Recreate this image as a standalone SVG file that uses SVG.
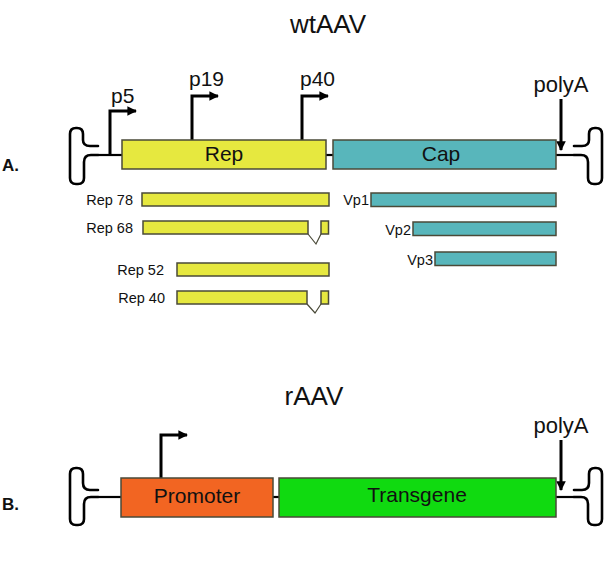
<svg xmlns="http://www.w3.org/2000/svg" width="609" height="568" viewBox="0 0 609 568">
<style>
text{font-family:"Liberation Sans",Arial,sans-serif;fill:#111}
.title{font-size:26px;text-anchor:middle}
.box{stroke:#4a4a38;stroke-width:1.5}
.rep{fill:#e6e83f}
.cap{fill:#58b6bb}
.lbl{font-size:21px;text-anchor:middle}
.plbl{font-size:21px}
.sm{font-size:14.5px;text-anchor:end}
.sec{font-size:17px;font-weight:bold}
.itr{fill:none;stroke:#000;stroke-width:2.6;stroke-linejoin:round;stroke-linecap:round}
.ln{fill:none;stroke:#000;stroke-width:2.2}
.pr{fill:none;stroke:#000;stroke-width:3;marker-end:url(#ah)}
.splice{fill:none;stroke:#4a4a38;stroke-width:1.2}
</style>
<defs>
<marker id="ah" viewBox="0 0 10 10" refX="9" refY="5" markerWidth="3.2" markerHeight="3.2" orient="auto" markerUnits="strokeWidth">
<path d="M0,0 L10,5 L0,10 z" fill="#000"/>
</marker>
<path id="itrTop" d="M 98,155 L 91,155 Q 84,155 84,162 L 84,178 Q 84,184 78,184 L 76,184 Q 70,184 70,178 L 70,134 Q 70,128 76,128 L 77,128 Q 83,128 83,134 L 83,140 Q 83,146 90,146 L 98,146"/>
<path id="itrBot" d="M 98,497 L 91,497 Q 84,497 84,504 L 84,519 Q 84,525 78,525 L 76,525 Q 70,525 70,519 L 70,474 Q 70,468 76,468 L 77,468 Q 83,468 83,474 L 83,483 Q 83,490 90,490 L 98,490"/>
</defs>
<rect width="609" height="568" fill="#fff"/>

<text class="title" x="328" y="33">wtAAV</text>
<text class="title" x="314" y="405">rAAV</text>
<text class="sec" x="2" y="171">A.</text>
<text class="sec" x="2" y="510">B.</text>

<g id="connectors">
<line class="ln" x1="98" y1="155" x2="122" y2="155"/>
<line class="ln" x1="326" y1="155" x2="333" y2="155"/>
<line class="ln" x1="556" y1="155" x2="574" y2="155"/>
<line class="ln" x1="98" y1="497" x2="121" y2="497"/>
<line class="ln" x1="273" y1="497" x2="279" y2="497"/>
<line class="ln" x1="556" y1="497" x2="574" y2="497"/>
<path class="pr" d="M110,155 V111 H136"/>
<path class="pr" d="M192,140 V96 H218"/>
<path class="pr" d="M302,140 V96 H328"/>
<path class="pr" d="M561,99 V150"/>
<path class="pr" d="M161,478 V435 H187"/>
<path class="pr" d="M561,440 V490"/>
</g>

<g id="itr-left-a"><use href="#itrTop" class="itr"/></g>
<g id="itr-right-a"><use href="#itrTop" class="itr" transform="translate(672,0) scale(-1,1)"/></g>
<g id="itr-left-b"><use href="#itrBot" class="itr"/></g>
<g id="itr-right-b"><use href="#itrBot" class="itr" transform="translate(672,0) scale(-1,1)"/></g>

<g id="p5"><text class="plbl" x="111" y="103">p5</text></g>
<g id="p19"><text class="plbl" x="189" y="86">p19</text></g>
<g id="p40"><text class="plbl" x="300" y="86">p40</text></g>
<g id="polyA-a"><text class="lbl" x="561" y="92" style="font-size:22px">polyA</text></g>
<g id="polyA-b"><text class="lbl" x="561" y="433" style="font-size:22px">polyA</text></g>

<g id="rep">
<rect class="box rep" x="122" y="140" width="204" height="29"/>
<text class="lbl" x="224" y="161">Rep</text>
</g>
<g id="cap">
<rect class="box cap" x="333" y="140" width="223" height="29"/>
<text class="lbl" x="441" y="161">Cap</text>
</g>

<g id="rep78">
<rect class="box rep" x="142" y="193" width="187" height="13"/>
<text class="sm" x="133" y="205">Rep 78</text>
</g>
<g id="rep68">
<rect class="box rep" x="143" y="221" width="165" height="13"/>
<rect class="box rep" x="321" y="221" width="7.5" height="13"/>
<path class="splice" d="M308,234 L316,244 L321,234"/>
<text class="sm" x="133" y="233">Rep 68</text>
</g>
<g id="rep52">
<rect class="box rep" x="177" y="263" width="152" height="13"/>
<text class="sm" x="164" y="275">Rep 52</text>
</g>
<g id="rep40">
<rect class="box rep" x="177" y="291" width="130" height="13"/>
<rect class="box rep" x="321" y="291" width="7.5" height="13"/>
<path class="splice" d="M307,304 L315,313 L321,304"/>
<text class="sm" x="165" y="303">Rep 40</text>
</g>

<g id="vp1">
<rect class="box cap" x="371" y="193" width="185" height="13.5"/>
<text class="sm" x="369" y="205">Vp1</text>
</g>
<g id="vp2">
<rect class="box cap" x="413" y="222" width="143" height="13.5"/>
<text class="sm" x="411" y="235">Vp2</text>
</g>
<g id="vp3">
<rect class="box cap" x="435" y="252" width="121" height="13.5"/>
<text class="sm" x="433" y="265">Vp3</text>
</g>

<g id="promoter">
<rect class="box" x="121" y="478" width="152" height="39" fill="#f26522"/>
<text class="lbl" x="197" y="503">Promoter</text>
</g>
<g id="transgene">
<rect class="box" x="279" y="478" width="277" height="39" fill="#10da10"/>
<text class="lbl" x="417" y="502">Transgene</text>
</g>
</svg>
